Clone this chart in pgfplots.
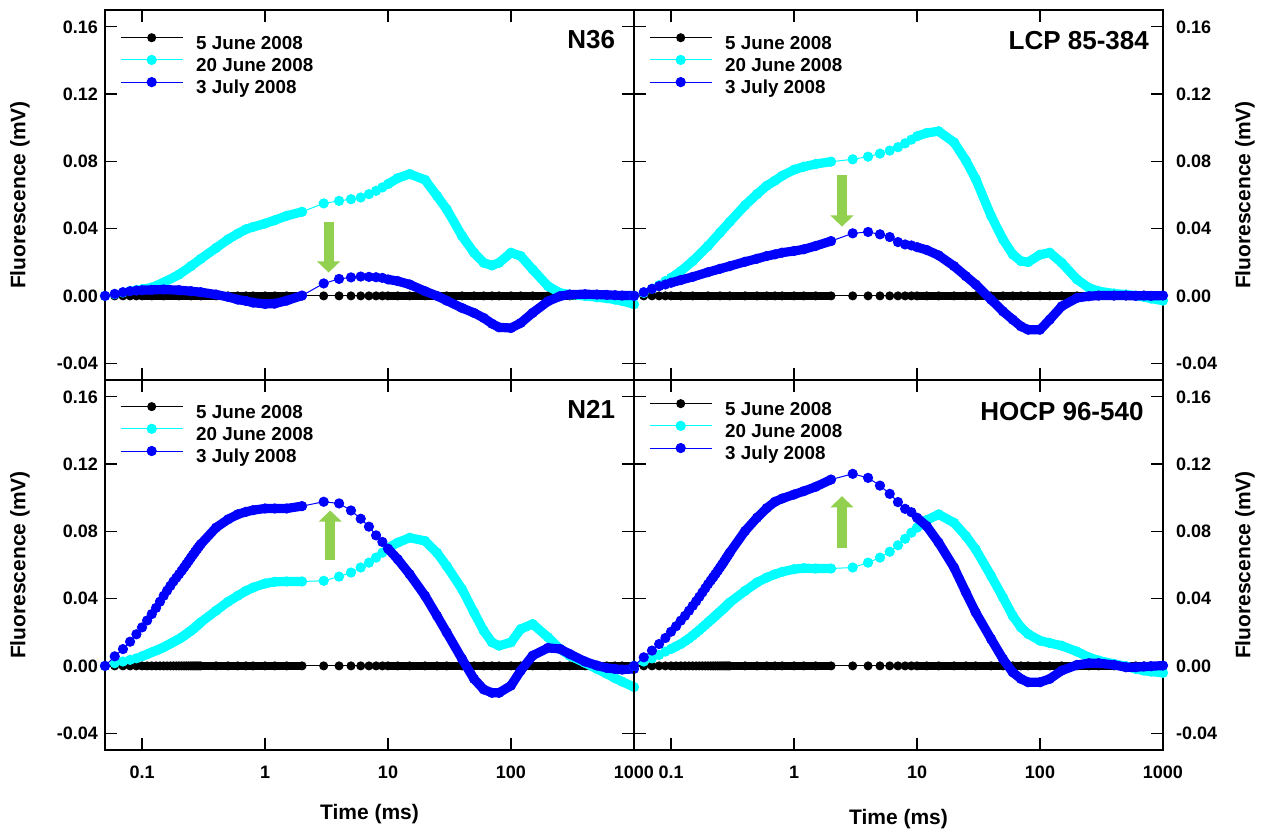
\documentclass[border=0pt]{standalone}
\usepackage{fontspec}
\setmainfont{Liberation Sans}
\usepackage{pgfplots}
\usepackage{pgfplotstable}
\pgfplotsset{compat=1.18}
\usetikzlibrary{arrows.meta}
\definecolor{cy}{RGB}{0,255,255}
\definecolor{bl}{RGB}{0,0,255}
\definecolor{gr}{RGB}{146,208,80}

% N36
\pgfplotstableread{
t k c b
0.05 0 0.0 0.0
0.06 0 0.0010 0.0012
0.07 0 0.0020 0.0022
0.08 0 0.0030 0.0028
0.09 0 0.0035 0.0032
0.1 0 0.0040 0.0034
0.12 0 0.0050 0.0036
0.15 0 0.0080 0.0038
0.2 0 0.0127 0.0034
0.25 0 0.0177 0.0028
0.3 0 0.0220 0.0022
0.4 0 0.0285 0.0008
0.5 0 0.0336 -0.0006
0.6 0 0.0370 -0.0022
0.7 0 0.0396 -0.0030
0.8 0 0.0410 -0.0040
1 0 0.0430 -0.0048
1.2 0 0.0450 -0.0046
1.5 0 0.0476 -0.0028
2 0 0.0500 0.0002
3 0 0.0550 0.0074
4 0 0.0565 0.0101
5 0 0.0575 0.0110
6 0 0.0585 0.0115
7 0 0.0605 0.0113
8 0 0.0625 0.0111
9 0 0.0645 0.0107
10 0 0.0665 0.0098
12 0 0.0700 0.0088
15 0 0.0725 0.0068
20 0 0.0690 0.0028
25 0 0.0595 0.0
30 0 0.0515 -0.0028
40 0 0.0356 -0.0072
50 0 0.0257 -0.0101
60 0 0.0197 -0.0131
70 0 0.0181 -0.0165
80 0 0.0197 -0.0187
100 0 0.0257 -0.0191
120 0 0.0237 -0.0161
150 0 0.0157 -0.0101
200 0 0.0058 -0.0032
250 0 0.0018 -0.0002
300 0 0.0008 0.0008
400 0 0.0 0.0010
500 0 -0.0008 0.0008
600 0 -0.0014 0.0006
700 0 -0.0022 0.0004
800 0 -0.0030 0.0002
1000 0 -0.0050 0.0002
}\tA

% LCP 85-384
\pgfplotstableread{
t k c b
0.05 0 0.0 0.0
0.06 0 0.0018 0.0022
0.07 0 0.0042 0.0042
0.08 0 0.0064 0.0058
0.09 0 0.0088 0.0068
0.1 0 0.0107 0.0078
0.12 0 0.0147 0.0094
0.15 0 0.0207 0.0113
0.2 0 0.0297 0.0141
0.25 0 0.0376 0.0161
0.3 0 0.0440 0.0177
0.4 0 0.0539 0.0203
0.5 0 0.0605 0.0221
0.6 0 0.0655 0.0237
0.7 0 0.0685 0.0247
0.8 0 0.0714 0.0257
1 0 0.0750 0.0267
1.2 0 0.0768 0.0277
1.5 0 0.0784 0.0297
2 0 0.0798 0.0326
3 0 0.0812 0.0372
4 0 0.0828 0.0380
5 0 0.0846 0.0366
6 0 0.0864 0.0350
7 0 0.0884 0.0320
8 0 0.0907 0.0306
9 0 0.0929 0.0300
10 0 0.0949 0.0290
12 0 0.0969 0.0273
15 0 0.0979 0.0241
20 0 0.0913 0.0177
25 0 0.0804 0.0117
30 0 0.0695 0.0068
40 0 0.0476 -0.0022
50 0 0.0336 -0.0092
60 0 0.0247 -0.0141
70 0 0.0207 -0.0181
80 0 0.0201 -0.0201
100 0 0.0245 -0.0201
120 0 0.0257 -0.0141
150 0 0.0197 -0.0062
200 0 0.0098 -0.0012
250 0 0.0048 -0.0002
300 0 0.0028 0.0002
400 0 0.0014 0.0002
500 0 0.0008 0.0002
600 0 0.0002 0.0
700 0 -0.0006 0.0002
800 0 -0.0016 0.0
1000 0 -0.0028 0.0002
}\tB

% N21
\pgfplotstableread{
t k c b
0.05 0 0.0 0.0
0.06 0 0.0016 0.0057
0.07 0 0.0026 0.0100
0.08 0 0.0036 0.0144
0.09 0 0.0045 0.0188
0.10 0 0.0057 0.0229
0.11 0 0.0069 0.0270
0.12 0 0.0081 0.0308
0.13 0 0.0091 0.0345
0.14 0 0.0101 0.0382
0.15 0 0.0111 0.0417
0.16 0 0.0122 0.0448
0.17 0 0.0132 0.0476
0.18 0 0.0142 0.0502
0.19 0 0.0151 0.0524
0.20 0 0.0160 0.0545
0.21 0 0.0170 0.0566
0.22 0 0.0180 0.0586
0.23 0 0.0190 0.0606
0.24 0 0.0200 0.0625
0.25 0 0.0209 0.0644
0.26 0 0.0219 0.0661
0.27 0 0.0229 0.0678
0.28 0 0.0239 0.0694
0.29 0 0.0249 0.0709
0.30 0 0.0259 0.0723
0.4 0 0.0328 0.0822
0.5 0 0.0381 0.0871
0.6 0 0.0417 0.0901
0.7 0 0.0446 0.0916
0.8 0 0.0466 0.0926
1 0 0.0490 0.0936
1.2 0 0.0500 0.0936
1.5 0 0.0502 0.0936
2 0 0.0502 0.0950
3 0 0.0506 0.0976
4 0 0.0531 0.0966
5 0 0.0555 0.0924
6 0 0.0585 0.0875
7 0 0.0614 0.0828
8 0 0.0644 0.0776
9 0 0.0673 0.0737
10 0 0.0701 0.0697
12 0 0.0733 0.0634
15 0 0.0762 0.0545
20 0 0.0743 0.0417
25 0 0.0673 0.0298
30 0 0.0594 0.0199
40 0 0.0456 0.0041
50 0 0.0318 -0.0077
60 0 0.0209 -0.0140
70 0 0.0140 -0.0160
80 0 0.0120 -0.0160
100 0 0.0140 -0.0117
120 0 0.0219 -0.0028
150 0 0.0249 0.0061
200 0 0.0170 0.0107
250 0 0.0101 0.0101
300 0 0.0061 0.0071
400 0 0.0018 0.0026
500 0 -0.0018 0.0002
600 0 -0.0047 -0.0012
700 0 -0.0073 -0.0018
800 0 -0.0093 -0.0022
1000 0 -0.0126 -0.0018
}\tC

% HOCP 96-540
\pgfplotstableread{
t k c b
0.05 0 0.0 0.0
0.06 0 0.0026 0.0051
0.07 0 0.0045 0.0091
0.08 0 0.0065 0.0130
0.09 0 0.0085 0.0166
0.10 0 0.0101 0.0203
0.11 0 0.0116 0.0236
0.12 0 0.0130 0.0269
0.13 0 0.0147 0.0298
0.14 0 0.0163 0.0328
0.15 0 0.0180 0.0357
0.16 0 0.0197 0.0384
0.17 0 0.0213 0.0411
0.18 0 0.0229 0.0437
0.19 0 0.0244 0.0462
0.20 0 0.0259 0.0486
0.21 0 0.0272 0.0507
0.22 0 0.0285 0.0527
0.23 0 0.0298 0.0547
0.24 0 0.0310 0.0566
0.25 0 0.0322 0.0585
0.26 0 0.0333 0.0603
0.27 0 0.0344 0.0621
0.28 0 0.0355 0.0639
0.29 0 0.0366 0.0656
0.30 0 0.0377 0.0673
0.4 0 0.0446 0.0802
0.5 0 0.0496 0.0881
0.6 0 0.0525 0.0938
0.7 0 0.0545 0.0976
0.8 0 0.0559 0.0995
1 0 0.0575 0.1019
1.2 0 0.0581 0.1039
1.5 0 0.0579 0.1065
2 0 0.0579 0.1108
3 0 0.0585 0.1142
4 0 0.0614 0.1118
5 0 0.0644 0.1072
6 0 0.0679 0.1023
7 0 0.0717 0.0974
8 0 0.0756 0.0934
9 0 0.0792 0.0914
10 0 0.0822 0.0881
12 0 0.0867 0.0831
15 0 0.0901 0.0733
20 0 0.0851 0.0585
25 0 0.0772 0.0436
30 0 0.0693 0.0318
40 0 0.0535 0.0160
50 0 0.0407 0.0041
60 0 0.0298 -0.0038
70 0 0.0229 -0.0077
80 0 0.0190 -0.0097
100 0 0.0150 -0.0097
120 0 0.0136 -0.0077
150 0 0.0120 -0.0028
200 0 0.0085 0.0006
250 0 0.0051 0.0016
300 0 0.0032 0.0016
400 0 0.0012 0.0006
500 0 -0.0002 -0.0008
600 0 -0.0018 -0.0008
700 0 -0.0028 -0.0004
800 0 -0.0034 -0.0002
1000 0 -0.0041 0.0002
}\tD

\newcommand{\ser}[9]{%
 \addplot[color=#3, mark=*, mark size=#4, line width=0.5pt] table[x=t,y=#2]{#1};
 \addplot[color=#3, line width=#5, line cap=round, line join=round, forget plot,
   x filter/.code={\ifnum\coordindex<#6\relax\def\pgfmathresult{}\fi\ifnum\coordindex>#7\relax\def\pgfmathresult{}\fi}] table[x=t,y=#2]{#1};
 \addplot[color=#3, line width=#5, line cap=round, line join=round, forget plot,
   x filter/.code={\ifnum\coordindex<#8\relax\def\pgfmathresult{}\fi\ifnum\coordindex>#9\relax\def\pgfmathresult{}\fi}] table[x=t,y=#2]{#1};
}

\newcommand{\lblfont}{\bfseries\fontsize{10.5}{12}\selectfont}
\newcommand{\ttlfont}{\bfseries\fontsize{13}{13}\selectfont}
\newcommand{\tkfont}{\bfseries\fontsize{9}{10}\selectfont}
\newcommand{\lgfont}{\bfseries\fontsize{9.4}{10}\selectfont}

\tikzset{
 ttl/.style={anchor=north east, inner sep=0pt, font=\ttlfont},
 garrow/.style={draw=gr, line width=5pt, -{Triangle[width=11.3pt,length=5.6pt,fill=gr]}},
}

\pgfplotsset{
 every axis legend/.append style={draw=none, fill=none, anchor=north west, inner sep=0pt,
    font=\lgfont, column sep=5pt, row sep=0pt,
    nodes={inner sep=1.5pt, text height=6.4pt, text depth=1.6pt}},
 legend cell align=left,
 legend image code/.code={\draw[mark repeat=2,mark phase=2] plot coordinates {(0pt,3.3pt) (15.5pt,3.3pt) (31pt,3.3pt)};},
 every tick label/.append style={font=\tkfont},
 every tick/.append style={black, line width=0.6pt},
}

\begin{document}
\begin{tikzpicture}
\useasboundingbox (0,0) rectangle (632pt,416.5pt);

% top-left N36
\begin{axis}[xmode=log, xmin=0.05, xmax=1000, ymin=-0.05, ymax=0.17,
  scale only axis, width=264.5pt, height=185pt, anchor=south west, at={(52.5pt,226.5pt)},
  xtick={0.1,1,10,100,1000}, xticklabels={},
  ytick={-0.04,0,0.04,0.08,0.12,0.16}, yticklabels={-0.04,0.00,0.04,0.08,0.12,0.16},
  minor tick num=0, xminorticks=false, yminorticks=false,
  tick align=inside, major tick length=6pt,
  axis line style={line width=0.6pt}, clip mode=individual,
  yticklabel pos=left,
  legend style={at={(axis description cs:0.028,0.938)}}]
\ser{\tA}{k}{black}{2pt}{4pt}{5}{19}{27}{49}
\ser{\tA}{c}{cy}{2.3pt}{4.6pt}{5}{19}{27}{49}
\ser{\tA}{b}{bl}{2.3pt}{4.6pt}{5}{19}{27}{49}
\legend{5 June 2008,20 June 2008,3 July 2008}
\node[ttl] at (rel axis cs:0.965,0.946) {N36};
\draw[garrow] (axis cs:3.29,0.0442) -- (axis cs:3.29,0.0139);
\node[rotate=90, font=\lblfont] at (rel axis cs:-0.1607,0.5) {Fluorescence (mV)};
\end{axis}

% top-right LCP
\begin{axis}[xmode=log, xmin=0.05, xmax=1000, ymin=-0.05, ymax=0.17,
  scale only axis, width=264.5pt, height=185pt, anchor=south west, at={(317pt,226.5pt)},
  xtick={0.1,1,10,100,1000}, xticklabels={},
  ytick={-0.04,0,0.04,0.08,0.12,0.16}, yticklabels={-0.04,0.00,0.04,0.08,0.12,0.16},
  minor tick num=0, xminorticks=false, yminorticks=false,
  tick align=inside, major tick length=6pt,
  axis line style={line width=0.6pt}, clip mode=individual,
  yticklabel pos=right, yticklabel style={xshift=3pt},
  legend style={at={(axis description cs:0.028,0.938)}}]
\ser{\tB}{k}{black}{2pt}{4pt}{5}{19}{27}{49}
\ser{\tB}{c}{cy}{2.3pt}{4.6pt}{5}{19}{27}{49}
\ser{\tB}{b}{bl}{2.3pt}{4.6pt}{5}{19}{27}{49}
\legend{5 June 2008,20 June 2008,3 July 2008}
\node[ttl] at (rel axis cs:0.974,0.943) {LCP 85-384};
\draw[garrow] (axis cs:2.455,0.0719) -- (axis cs:2.455,0.0412);
\node[rotate=90, font=\lblfont] at (rel axis cs:1.155,0.5) {Fluorescence (mV)};
\end{axis}

% bottom-left N21
\begin{axis}[xmode=log, xmin=0.05, xmax=1000, ymin=-0.05, ymax=0.17,
  scale only axis, width=264.5pt, height=185pt, anchor=south west, at={(52.5pt,41.5pt)},
  xtick={0.1,1,10,100,1000}, xticklabels={0.1,1,10,100,1000},
  xticklabel style={yshift=-4.3pt},
  ytick={-0.04,0,0.04,0.08,0.12,0.16}, yticklabels={-0.04,0.00,0.04,0.08,0.12,0.16},
  minor tick num=0, xminorticks=false, yminorticks=false,
  tick align=inside, major tick length=6pt,
  axis line style={line width=0.6pt}, clip mode=individual,
  yticklabel pos=left,
  legend style={at={(axis description cs:0.028,0.941)}}]
\ser{\tC}{k}{black}{2pt}{4pt}{5}{34}{42}{64}
\ser{\tC}{c}{cy}{2.3pt}{4.6pt}{5}{34}{42}{64}
\ser{\tC}{b}{bl}{2.3pt}{4.6pt}{16}{34}{42}{64}
\legend{5 June 2008,20 June 2008,3 July 2008}
\node[ttl] at (rel axis cs:0.965,0.946) {N21};
\draw[garrow] (axis cs:3.39,0.0628) -- (axis cs:3.39,0.0924);
\node[rotate=90, font=\lblfont] at (rel axis cs:-0.1607,0.5) {Fluorescence (mV)};
\node[font=\lblfont] at (rel axis cs:0.5,-0.173) {Time (ms)};
\end{axis}

% bottom-right HOCP
\begin{axis}[xmode=log, xmin=0.05, xmax=1000, ymin=-0.05, ymax=0.17,
  scale only axis, width=264.5pt, height=185pt, anchor=south west, at={(317pt,41.5pt)},
  xtick={0.1,1,10,100,1000}, xticklabels={0.1,1,10,100,1000},
  xticklabel style={yshift=-4.3pt},
  ytick={-0.04,0,0.04,0.08,0.12,0.16}, yticklabels={-0.04,0.00,0.04,0.08,0.12,0.16},
  minor tick num=0, xminorticks=false, yminorticks=false,
  tick align=inside, major tick length=6pt,
  axis line style={line width=0.6pt}, clip mode=individual,
  yticklabel pos=right, yticklabel style={xshift=3pt},
  legend style={at={(axis description cs:0.028,0.949)}}]
\ser{\tD}{k}{black}{2pt}{4pt}{5}{34}{42}{64}
\ser{\tD}{c}{cy}{2.3pt}{4.6pt}{5}{34}{42}{64}
\ser{\tD}{b}{bl}{2.3pt}{4.6pt}{16}{34}{42}{64}
\legend{5 June 2008,20 June 2008,3 July 2008}
\node[ttl] at (rel axis cs:0.964,0.94) {HOCP 96-540};
\draw[garrow] (axis cs:2.455,0.0699) -- (axis cs:2.455,0.1009);
\node[rotate=90, font=\lblfont] at (rel axis cs:1.155,0.5) {Fluorescence (mV)};
\node[font=\lblfont] at (rel axis cs:0.5,-0.186) {Time (ms)};
\end{axis}
\end{tikzpicture}
\end{document}
